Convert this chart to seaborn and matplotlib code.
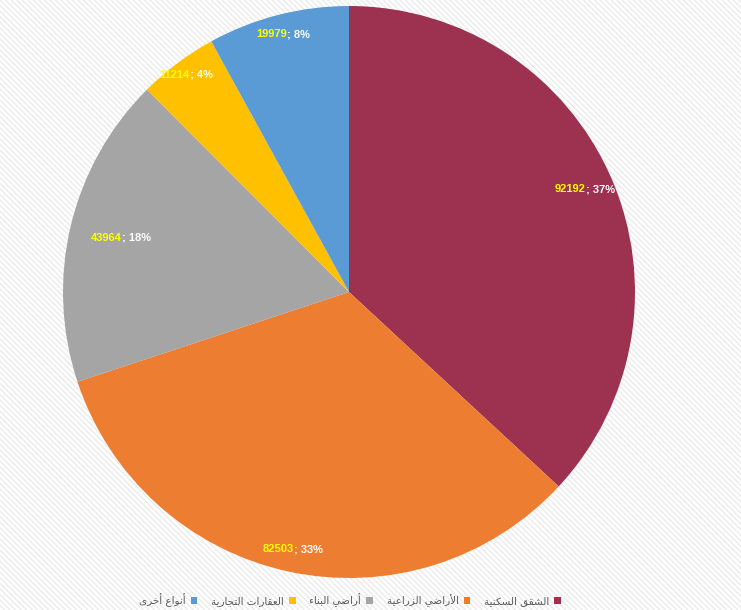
import matplotlib
matplotlib.use("Agg")
import matplotlib.pyplot as plt
import seaborn as sns
import numpy as np
from matplotlib.patches import Patch, Rectangle

categories = ["الشقق السكنية", "الأراضي الزراعية", "أراضي البناء", "العقارات التجارية", "أنواع أخرى"]
values = [92192, 82503, 43964, 11214, 19979]
colors = ["#9C3250", "#ED7D31", "#A5A5A5", "#FFC000", "#5B9BD5"]

# label distance from centre (fraction of radius), rough "inside end" look
label_r = [0.9, 0.92, 0.82, 0.95, 0.93]

# arabic presentation forms: (base code point, number of forms)
FORMS = {
    "ء": (0xFE80, 1), "أ": (0xFE83, 2), "ا": (0xFE8D, 2), "ب": (0xFE8F, 4),
    "ة": (0xFE93, 2), "ت": (0xFE95, 4), "ج": (0xFE9D, 4), "خ": (0xFEA5, 4),
    "ر": (0xFEAD, 2), "ز": (0xFEAF, 2), "س": (0xFEB1, 4), "ش": (0xFEB5, 4),
    "ض": (0xFEBD, 4), "ع": (0xFEC9, 4), "ق": (0xFED5, 4), "ك": (0xFED9, 4),
    "ل": (0xFEDD, 4), "ن": (0xFEE5, 4), "و": (0xFEED, 2), "ى": (0xFEEF, 2),
    "ي": (0xFEF1, 4),
}
LAM_ALEF = {"ا": (0xFEFB, 0xFEFC), "أ": (0xFEF7, 0xFEF8)}


def shape(text):
    # join letters and turn to visual (left-to-right) order
    out = []
    chars = list(text)
    i = 0
    while i < len(chars):
        c = chars[i]
        if c not in FORMS:
            out.append(c)
            i += 1
            continue
        prev = chars[i - 1] if i > 0 else None
        joins_prev = prev in FORMS and FORMS[prev][1] == 4
        nxt = chars[i + 1] if i + 1 < len(chars) else None
        if c == "ل" and nxt in LAM_ALEF:
            iso, fin = LAM_ALEF[nxt]
            out.append(chr(fin if joins_prev else iso))
            i += 2
            continue
        base, n = FORMS[c]
        joins_next = n == 4 and nxt in FORMS
        if n == 1:
            form = 0
        elif joins_prev and joins_next:
            form = 3
        elif joins_prev:
            form = 1
        elif joins_next:
            form = 2
        else:
            form = 0
        out.append(chr(base + form))
        i += 1
    return "".join(out[::-1])


sns.set_style("white")
plt.rcParams["font.family"] = ["DejaVu Sans"]

fig = plt.figure(figsize=(7.41, 6.10), dpi=100)
# faint diagonal stripes in the background
bg = Rectangle((0, 0), 1, 1, transform=fig.transFigure, facecolor="white",
               edgecolor="#ebebeb", hatch="\\\\\\\\\\\\", linewidth=0, zorder=-10)
fig.patches.append(bg)

ax = fig.add_axes([63 / 741, 32 / 610, 572 / 741, 572 / 610])
ax.set_facecolor("none")
wedges, _ = ax.pie(values, colors=colors, startangle=90, counterclock=False,
                   radius=1, wedgeprops=dict(linewidth=0))
ax.set_xlim(-1, 1)
ax.set_ylim(-1, 1)
ax.set_aspect("equal")
ax.axis("off")

total = sum(values)
tp = dict(fontfamily="Liberation Sans", fontweight="bold", fontsize=8)
labels = []
for w, v, r in zip(wedges, values, label_r):
    ang = np.deg2rad((w.theta1 + w.theta2) / 2)
    x, y = r * np.cos(ang), r * np.sin(ang)
    pct = int(round(v / total * 100))
    suffix = "; %d%%" % pct
    full = ax.text(x, y, str(v) + suffix, ha="center", va="center", color="none", **tp)
    labels.append((full, y, str(v), suffix))

# measure the whole label, then split it into a yellow value and a white suffix
fig.canvas.draw()
inv = ax.transData.inverted()
for full, y, val, suffix in labels:
    bb = full.get_window_extent()
    left = inv.transform((bb.x0, bb.y0))[0]
    right = inv.transform((bb.x1, bb.y0))[0]
    full.remove()
    ax.text(left, y, val, ha="left", va="center", color="#FFFF00", **tp)
    ax.text(right, y, suffix, ha="right", va="center", color="white", **tp)

handles = [Patch(facecolor=c, edgecolor="none", label=shape(t)) for t, c in zip(categories, colors)]
fig.legend(handles=handles[::-1], loc="center", bbox_to_anchor=(350 / 741, 1 - 600 / 610),
           ncol=5, frameon=False, markerfirst=False, handlelength=0.65, handleheight=0.65,
           handletextpad=0.5, columnspacing=1.3, prop=dict(family="DejaVu Sans", size=7.5),
           labelcolor="#595959")

fig.savefig("out.png", dpi=100)
